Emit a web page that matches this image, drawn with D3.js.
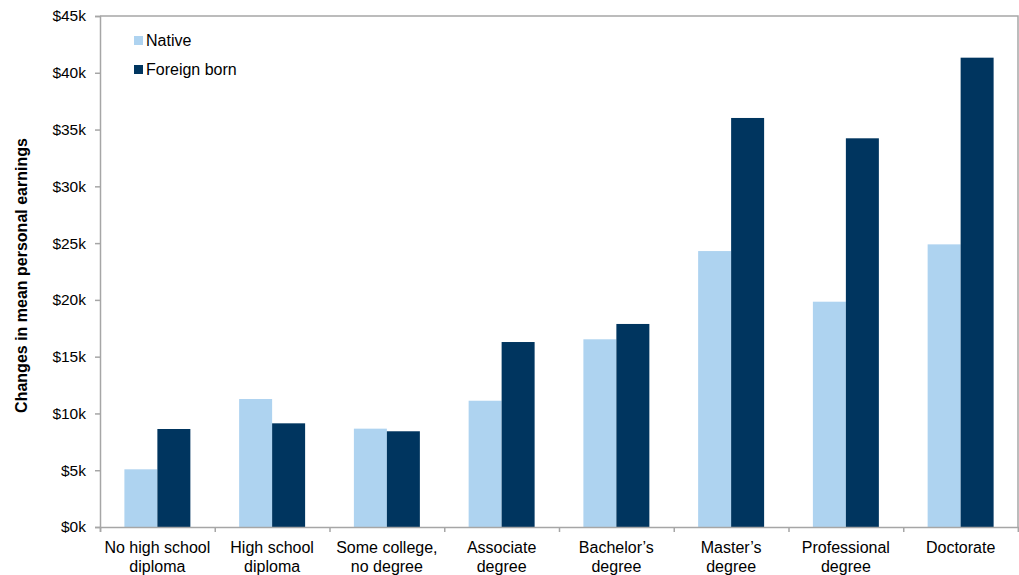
<!DOCTYPE html>
<html>
<head>
<meta charset="utf-8">
<script src="https://cdn.jsdelivr.net/npm/d3@7"></script>
<style>
  html, body { margin: 0; padding: 0; background: #fff; }
  svg { display: block; font-family: "Liberation Sans", Arial, sans-serif; }
</style>
</head>
<body>
<svg id="chart" width="1019" height="575"></svg>
<script>
// Education levels (two-line labels)
const categories = [
  ["No high school", "diploma"],
  ["High school", "diploma"],
  ["Some college,", "no degree"],
  ["Associate", "degree"],
  ["Bachelor\u2019s", "degree"],
  ["Master\u2019s", "degree"],
  ["Professional", "degree"],
  ["Doctorate"]
];
// Change in mean personal earnings, thousands of dollars
const nativeValues  = [5.08, 11.27, 8.66, 11.12, 16.53, 24.30, 19.84, 24.89];
const foreignValues = [8.63, 9.13, 8.43, 16.29, 17.88, 36.02, 34.23, 41.33];
const seriesNames = ["Native", "Foreign born"];
const yTicks = [0, 5, 10, 15, 20, 25, 30, 35, 40, 45];

const colors = ["#AED3F0", "#00355F"];
const axisColor = "#A6A6A6";

const margin = { left: 100, top: 16, right: 1, bottom: 48 };
const W = 1019, H = 575;
const svg = d3.select("#chart");

const x0 = d3.scaleBand()
  .domain(d3.range(categories.length))
  .range([margin.left, W - margin.right])
  .paddingInner(0.425).paddingOuter(0.2125);
const x1 = d3.scaleBand().domain([0, 1]).range([0, x0.bandwidth()]);
const xEdge = d3.scaleLinear().domain([0, categories.length]).range([margin.left, W - margin.right]);

const y = d3.scaleLinear().domain([0, 45]).range([H - margin.bottom, margin.top]);

// Plot frame (top and right)
svg.append("path")
  .attr("d", `M${margin.left},${margin.top}H${W - margin.right}V${H - margin.bottom}`)
  .attr("fill", "none").attr("stroke", axisColor).attr("stroke-width", 1.5);

// Bars
const data = categories.map((c, i) => [nativeValues[i], foreignValues[i]]);
const groups = svg.append("g").selectAll("g").data(data).join("g")
  .attr("transform", (d, i) => `translate(${x0(i)},0)`);
groups.selectAll("rect").data(d => d.map((v, s) => ({ v, s }))).join("rect")
  .attr("x", d => x1(d.s))
  .attr("width", x1.bandwidth())
  .attr("y", d => y(d.v))
  .attr("height", d => y(0) - y(d.v))
  .attr("fill", d => colors[d.s]);

// Y axis
const yAxis = svg.append("g")
  .attr("transform", `translate(${margin.left},0)`)
  .call(d3.axisLeft(y).tickValues(yTicks).tickSize(5).tickPadding(9).tickFormat(d => `$${d}k`));
yAxis.select(".domain").attr("stroke", axisColor).attr("stroke-width", 1.5);
yAxis.selectAll(".tick line").attr("stroke", axisColor).attr("stroke-width", 1.5);
yAxis.selectAll(".tick text").attr("font-size", 15.5).attr("fill", "#000")
  .attr("font-family", "Liberation Sans, Arial, sans-serif");

// X axis with ticks at category boundaries
const xAxis = svg.append("g")
  .attr("transform", `translate(0,${y(0)})`)
  .call(d3.axisBottom(xEdge).tickValues(d3.range(categories.length + 1)).tickSize(5).tickFormat(""));
xAxis.select(".domain").attr("stroke", axisColor).attr("stroke-width", 1.5);
xAxis.selectAll(".tick line").attr("stroke", axisColor).attr("stroke-width", 1.5);

// Category labels
const labels = svg.append("g").selectAll("text").data(categories).join("text")
  .attr("x", (d, i) => x0(i) + x0.bandwidth() / 2)
  .attr("y", y(0) + 26)
  .attr("text-anchor", "middle")
  .attr("font-size", 16)
  .attr("fill", "#000");
labels.selectAll("tspan").data(d => d).join("tspan")
  .attr("x", function () { return d3.select(this.parentNode).attr("x"); })
  .attr("dy", (d, j) => j === 0 ? 0 : 19)
  .text(d => d);

// Y axis title
svg.append("text")
  .attr("transform", `translate(27,${(y(0) + y(45)) / 2 + 4}) rotate(-90)`)
  .attr("text-anchor", "middle")
  .attr("font-size", 16)
  .attr("font-weight", "bold")
  .attr("fill", "#000")
  .text("Changes in mean personal earnings");

// Legend
const legend = svg.append("g").selectAll("g").data(seriesNames).join("g")
  .attr("transform", (d, i) => `translate(134,${36 + i * 29})`);
legend.append("rect").attr("width", 9).attr("height", 9).attr("fill", (d, i) => colors[i]);
legend.append("text").attr("x", 12).attr("y", 10)
  .attr("font-size", 16).attr("fill", "#000").text(d => d);
</script>
</body>
</html>
